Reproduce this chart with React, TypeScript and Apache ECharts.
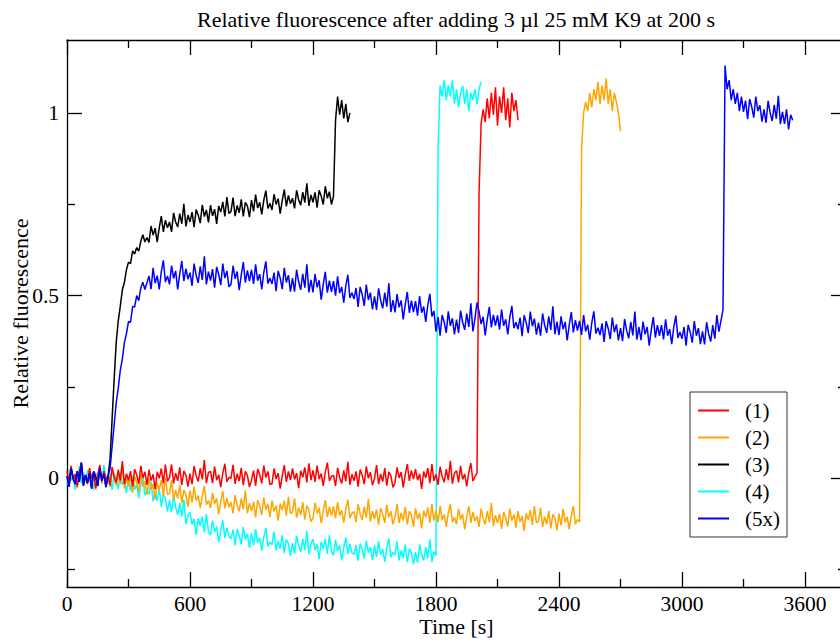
import React, { useEffect, useRef } from "react";
import * as echarts from "echarts";

// sampling step of all traces (s); each row below covers 100 s
const sampleStep = 10;

const xTicks = [0, 600, 1200, 1800, 2400, 3000, 3600];
const yTickLabels = ["0", "0.5", "1"];

const seriesNames = ["(1)", "(2)", "(3)", "(4)", "(5x)"];
const seriesColors = ["#ff0000", "#ffa500", "#000000", "#00ffff", "#0000ff"];

// (1) red, t = 0..2200 s
const trace1 = [
  0.019, -0.013, 0.032, -0.005, 0.010, -0.024, 0.014, 0.040, -0.010, 0.003,
  -0.016, 0.026, -0.003, 0.013, -0.029, 0.006, 0.035, -0.011, 0.018, -0.006,
  0.008, -0.021, 0.029, 0.002, -0.014, 0.022, -0.008, 0.045, -0.018, 0.011,
  -0.008, 0.018, -0.024, 0.023, 0.007, -0.017, 0.032, -0.001, 0.016, -0.020,
  0.022, -0.008, 0.009, -0.032, 0.016, -0.002, 0.025, -0.016, 0.036, -0.010,
  -0.001, 0.036, -0.016, 0.012, -0.009, 0.028, -0.020, 0.018, 0.007, -0.025,
  0.011, -0.018, 0.032, 0.005, -0.011, 0.025, -0.005, 0.048, -0.015, 0.014,
  0.017, -0.015, 0.030, -0.007, 0.008, -0.026, 0.012, 0.038, -0.012, 0.001,
  -0.002, 0.035, -0.017, 0.011, -0.010, 0.027, -0.021, 0.017, 0.006, -0.026,
  -0.007, 0.019, -0.023, 0.024, 0.008, -0.016, 0.033, 0.000, 0.017, -0.019,
  -0.017, 0.025, -0.004, 0.012, -0.030, 0.005, 0.034, -0.012, 0.017, -0.007,
  0.025, -0.005, 0.012, -0.029, 0.019, 0.001, 0.028, -0.013, 0.039, -0.007,
  0.020, -0.012, 0.033, -0.004, 0.011, -0.023, 0.015, 0.041, -0.009, 0.004,
  0.006, -0.023, 0.027, 0.000, -0.016, 0.020, -0.010, 0.043, -0.020, 0.009,
  -0.009, 0.017, -0.025, 0.022, 0.006, -0.018, 0.031, -0.002, 0.015, -0.021,
  -0.003, 0.034, -0.018, 0.010, -0.011, 0.026, -0.022, 0.016, 0.005, -0.027,
  -0.014, 0.028, -0.001, 0.015, -0.027, 0.008, 0.037, -0.009, 0.020, -0.004,
  0.023, -0.007, 0.010, -0.031, 0.017, -0.001, 0.026, -0.015, 0.037, -0.009,
  0.009, -0.020, 0.030, 0.003, -0.013, 0.023, -0.007, 0.046, -0.017, 0.012,
  0.019, -0.013, 0.032, -0.005, 0.010, -0.024, 0.014, 0.040, -0.010, 0.003,
  0.012, 0.780, 0.970, 1.010, 0.975, 1.040, 0.985, 1.055, 0.995, 1.070,
  0.965, 1.045, 1.000, 1.070, 0.980, 1.040, 0.960, 1.055, 1.005, 1.035,
  0.980,
];

// (2) orange, t = 0..2700 s
const trace2 = [
  0.015, -0.017, 0.028, -0.009, 0.006, -0.028, 0.010, 0.036, -0.014, -0.001,
  -0.020, 0.022, -0.007, 0.009, -0.033, 0.002, 0.031, -0.015, 0.014, -0.010,
  0.004, -0.026, 0.023, -0.005, -0.022, 0.013, -0.018, 0.034, -0.030, -0.002,
  -0.024, 0.001, -0.042, 0.003, -0.014, -0.039, 0.009, -0.025, -0.010, -0.047,
  -0.002, -0.033, -0.018, -0.060, -0.014, -0.033, -0.007, -0.050, 0.001, -0.047,
  -0.043, -0.007, -0.061, -0.034, -0.057, -0.021, -0.070, -0.034, -0.046, -0.080,
  -0.035, -0.068, -0.025, -0.063, -0.049, -0.084, -0.048, -0.023, -0.074, -0.063,
  -0.083, -0.042, -0.072, -0.057, -0.100, -0.066, -0.037, -0.084, -0.056, -0.081,
  -0.068, -0.098, -0.048, -0.076, -0.092, -0.057, -0.087, -0.035, -0.098, -0.070,
  -0.092, -0.066, -0.109, -0.062, -0.079, -0.103, -0.055, -0.088, -0.072, -0.108,
  -0.063, -0.093, -0.077, -0.118, -0.071, -0.089, -0.063, -0.104, -0.053, -0.099,
  -0.094, -0.057, -0.110, -0.082, -0.103, -0.067, -0.115, -0.077, -0.089, -0.121,
  -0.111, -0.069, -0.099, -0.083, -0.125, -0.091, -0.062, -0.108, -0.080, -0.104,
  -0.079, -0.111, -0.067, -0.104, -0.089, -0.124, -0.086, -0.060, -0.111, -0.098,
  -0.093, -0.122, -0.072, -0.100, -0.116, -0.080, -0.110, -0.058, -0.121, -0.092,
  -0.114, -0.088, -0.130, -0.084, -0.100, -0.124, -0.075, -0.109, -0.092, -0.128,
  -0.109, -0.072, -0.124, -0.097, -0.118, -0.081, -0.129, -0.092, -0.103, -0.135,
  -0.084, -0.114, -0.097, -0.139, -0.091, -0.109, -0.082, -0.124, -0.072, -0.118,
  -0.091, -0.123, -0.078, -0.116, -0.101, -0.135, -0.097, -0.072, -0.122, -0.109,
  -0.128, -0.086, -0.115, -0.100, -0.142, -0.107, -0.078, -0.124, -0.095, -0.119,
  -0.106, -0.135, -0.085, -0.112, -0.128, -0.092, -0.122, -0.069, -0.132, -0.103,
  -0.125, -0.099, -0.141, -0.094, -0.110, -0.134, -0.085, -0.118, -0.101, -0.137,
  -0.092, -0.122, -0.105, -0.146, -0.098, -0.116, -0.089, -0.130, -0.078, -0.124,
  -0.120, -0.083, -0.135, -0.107, -0.128, -0.091, -0.139, -0.101, -0.112, -0.144,
  -0.099, -0.131, -0.086, -0.123, -0.108, -0.142, -0.104, -0.078, -0.128, -0.115,
  -0.122, 0.900, 1.000, 1.030, 1.005, 1.055, 1.015, 1.065, 1.035, 1.085,
  1.025, 1.075, 1.035, 1.095, 1.025, 1.065, 1.005, 1.055, 1.030, 1.000,
  0.950,
];

// (3) black, t = 0..1380 s
const trace3 = [
  0.004, -0.025, 0.025, -0.002, -0.018, 0.018, -0.012, 0.041, -0.022, 0.007,
  -0.014, 0.012, -0.030, 0.017, 0.001, -0.023, 0.026, -0.007, 0.010, -0.026,
  0.002, 0.050, 0.160, 0.270, 0.370, 0.430, 0.470, 0.515, 0.535, 0.570,
  0.591, 0.587, 0.622, 0.613, 0.631, 0.621, 0.648, 0.666, 0.646, 0.658,
  0.645, 0.690, 0.665, 0.684, 0.646, 0.685, 0.717, 0.674, 0.706, 0.685,
  0.701, 0.674, 0.726, 0.701, 0.687, 0.724, 0.696, 0.751, 0.689, 0.720,
  0.701, 0.728, 0.687, 0.735, 0.720, 0.698, 0.748, 0.716, 0.734, 0.700,
  0.747, 0.718, 0.736, 0.696, 0.745, 0.728, 0.756, 0.716, 0.769, 0.724,
  0.730, 0.768, 0.717, 0.746, 0.726, 0.763, 0.716, 0.755, 0.745, 0.714,
  0.761, 0.730, 0.776, 0.739, 0.755, 0.722, 0.761, 0.787, 0.738, 0.752,
  0.734, 0.777, 0.749, 0.765, 0.724, 0.760, 0.790, 0.744, 0.774, 0.751,
  0.766, 0.738, 0.788, 0.762, 0.747, 0.783, 0.754, 0.807, 0.745, 0.775,
  0.755, 0.782, 0.740, 0.788, 0.772, 0.749, 0.799, 0.766, 0.784, 0.749,
  0.772, 0.980, 1.045, 0.995, 1.035, 0.985, 1.025, 0.975, 1.000,
];

// (4) cyan, t = 0..2020 s
const trace4 = [
  -0.020, 0.022, -0.007, 0.009, -0.033, 0.002, 0.031, -0.015, 0.014, -0.010,
  0.020, -0.010, 0.007, -0.034, 0.014, -0.004, 0.023, -0.018, 0.034, -0.012,
  -0.014, 0.010, -0.034, 0.012, -0.006, -0.032, 0.015, -0.019, -0.004, -0.042,
  -0.003, -0.037, 0.006, -0.033, -0.020, -0.056, -0.020, 0.004, -0.048, -0.037,
  -0.045, -0.011, -0.065, -0.040, -0.064, -0.029, -0.080, -0.045, -0.058, -0.093,
  -0.062, -0.095, -0.050, -0.081, -0.102, -0.070, -0.107, -0.060, -0.128, -0.105,
  -0.095, -0.128, -0.113, -0.157, -0.111, -0.132, -0.107, -0.150, -0.100, -0.148,
  -0.158, -0.118, -0.149, -0.134, -0.178, -0.145, -0.117, -0.165, -0.137, -0.162,
  -0.167, -0.143, -0.186, -0.141, -0.158, -0.183, -0.136, -0.170, -0.154, -0.192,
  -0.152, -0.185, -0.141, -0.179, -0.165, -0.200, -0.163, -0.138, -0.189, -0.177,
  -0.184, -0.148, -0.200, -0.173, -0.195, -0.158, -0.207, -0.170, -0.181, -0.214,
  -0.180, -0.209, -0.160, -0.187, -0.204, -0.168, -0.199, -0.146, -0.210, -0.181,
  -0.169, -0.199, -0.183, -0.224, -0.176, -0.195, -0.168, -0.209, -0.158, -0.204,
  -0.213, -0.171, -0.201, -0.185, -0.227, -0.193, -0.164, -0.210, -0.182, -0.206,
  -0.211, -0.185, -0.228, -0.181, -0.197, -0.222, -0.173, -0.206, -0.190, -0.226,
  -0.186, -0.218, -0.174, -0.211, -0.196, -0.231, -0.193, -0.167, -0.218, -0.205,
  -0.212, -0.175, -0.227, -0.200, -0.221, -0.184, -0.232, -0.195, -0.206, -0.238,
  -0.204, -0.233, -0.183, -0.211, -0.227, -0.191, -0.221, -0.169, -0.232, -0.203,
  -0.215, 0.900, 1.075, 1.045, 1.090, 1.035, 1.075, 1.045, 1.090, 1.025,
  1.065, 1.015, 1.055, 1.075, 1.025, 1.065, 1.005, 1.055, 1.035, 1.065,
  1.025, 1.065, 1.085,
];

// (5x) blue, t = 0..3540 s
const trace5 = [
  0.004, -0.025, 0.025, -0.002, -0.018, 0.018, -0.012, 0.041, -0.022, 0.007,
  -0.014, 0.012, -0.030, 0.017, 0.001, -0.023, 0.026, -0.007, 0.010, -0.026,
  0.004, 0.025, 0.085, 0.145, 0.205, 0.245, 0.295, 0.325, 0.370, 0.395,
  0.428, 0.426, 0.469, 0.468, 0.499, 0.485, 0.520, 0.536, 0.516, 0.534,
  0.553, 0.517, 0.575, 0.533, 0.554, 0.516, 0.564, 0.596, 0.536, 0.553,
  0.530, 0.581, 0.546, 0.567, 0.516, 0.559, 0.594, 0.539, 0.573, 0.544,
  0.562, 0.526, 0.587, 0.555, 0.534, 0.579, 0.542, 0.607, 0.530, 0.565,
  0.540, 0.572, 0.521, 0.578, 0.557, 0.528, 0.587, 0.547, 0.567, 0.523,
  0.530, 0.581, 0.545, 0.565, 0.514, 0.556, 0.591, 0.535, 0.568, 0.539,
  0.570, 0.531, 0.585, 0.540, 0.558, 0.516, 0.563, 0.593, 0.532, 0.547,
  0.531, 0.562, 0.511, 0.567, 0.547, 0.517, 0.575, 0.535, 0.555, 0.510,
  0.547, 0.510, 0.570, 0.537, 0.515, 0.559, 0.521, 0.585, 0.508, 0.542,
  0.508, 0.558, 0.522, 0.541, 0.488, 0.530, 0.564, 0.507, 0.540, 0.509,
  0.539, 0.499, 0.552, 0.506, 0.523, 0.480, 0.526, 0.556, 0.493, 0.507,
  0.490, 0.520, 0.468, 0.523, 0.502, 0.471, 0.529, 0.487, 0.507, 0.461,
  0.497, 0.460, 0.519, 0.486, 0.464, 0.507, 0.469, 0.533, 0.454, 0.487,
  0.453, 0.503, 0.467, 0.486, 0.434, 0.475, 0.509, 0.452, 0.485, 0.454,
  0.484, 0.444, 0.498, 0.452, 0.469, 0.427, 0.473, 0.504, 0.442, 0.457,
  0.400, 0.440, 0.389, 0.446, 0.426, 0.397, 0.456, 0.416, 0.437, 0.393,
  0.433, 0.397, 0.458, 0.426, 0.405, 0.450, 0.413, 0.478, 0.401, 0.436,
  0.480, 0.456, 0.421, 0.441, 0.390, 0.433, 0.468, 0.412, 0.446, 0.417,
  0.445, 0.406, 0.461, 0.416, 0.434, 0.393, 0.440, 0.471, 0.410, 0.426,
  0.407, 0.439, 0.388, 0.445, 0.425, 0.396, 0.455, 0.415, 0.436, 0.392,
  0.425, 0.389, 0.450, 0.418, 0.397, 0.442, 0.405, 0.470, 0.393, 0.428,
  0.391, 0.442, 0.407, 0.427, 0.376, 0.419, 0.454, 0.398, 0.432, 0.403,
  0.430, 0.391, 0.446, 0.401, 0.419, 0.378, 0.425, 0.456, 0.395, 0.411,
  0.391, 0.423, 0.372, 0.429, 0.409, 0.380, 0.439, 0.399, 0.420, 0.376,
  0.410, 0.374, 0.435, 0.403, 0.382, 0.427, 0.390, 0.455, 0.378, 0.413,
  0.377, 0.428, 0.393, 0.413, 0.362, 0.405, 0.440, 0.384, 0.418, 0.389,
  0.418, 0.379, 0.434, 0.389, 0.407, 0.366, 0.413, 0.444, 0.383, 0.399,
  0.381, 0.413, 0.362, 0.419, 0.399, 0.370, 0.429, 0.389, 0.410, 0.366,
  0.401, 0.365, 0.426, 0.394, 0.373, 0.418, 0.381, 0.446, 0.400, 0.430,
  0.460, 1.130, 1.065, 1.090, 1.035, 1.065, 1.025, 1.055, 1.005, 1.045,
  1.003, 1.034, 0.983, 1.038, 1.017, 0.987, 1.045, 1.005, 1.021, 0.976,
  1.010, 0.973, 1.033, 1.000, 0.978, 1.022, 0.984, 1.047, 0.969, 1.003,
  0.970, 1.010, 0.955, 0.995, 0.980,
];

const traces = [trace1, trace2, trace3, trace4, trace5];
// drawing order (back to front): (4), (2), (1), (3), (5x)
const drawOrder = [3, 1, 0, 2, 4];

const FONT = "'Liberation Serif', 'Times New Roman', serif";

export default function App() {
  const ref = useRef<HTMLDivElement>(null);
  useEffect(() => {
    if (!ref.current) return;
    const chart = echarts.init(ref.current, null, { renderer: "svg" });
    const axisLineStyle = { color: "#000", width: 1.3 };
    const series = drawOrder.map((k) => ({
      type: "line",
      name: seriesNames[k],
      xAxisIndex: 0,
      yAxisIndex: 0,
      data: traces[k].map((v, i) => [i * sampleStep, v]),
      showSymbol: false,
      symbol: "none",
      lineStyle: { color: seriesColors[k], width: 1.5 },
      itemStyle: { color: seriesColors[k] },
      clip: true,
      silent: true,
    }));
    chart.setOption({
      animation: false,
      backgroundColor: "#fff",
      textStyle: { fontFamily: FONT },
      graphic: [
        {
          type: "text",
          x: 456,
          y: 19,
          style: {
            text: "Relative fluorescence after adding 3 µl 25 mM K9 at 200 s",
            font: `22px ${FONT}`,
            fill: "#000",
            textAlign: "center",
            textVerticalAlign: "middle",
          },
        },
      ],
      legend: {
        data: seriesNames,
        orient: "vertical",
        left: 690,
        top: 392,
        padding: [8, 7, 8, 8],
        itemGap: 6,
        itemWidth: 31,
        itemHeight: 2,
        icon: "rect",
        backgroundColor: "#fff",
        borderColor: "#333",
        borderWidth: 1,
        borderRadius: 0,
        textStyle: {
          fontFamily: FONT,
          fontSize: 21,
          color: "#000",
          lineHeight: 20,
          padding: [0, 0, 0, 11],
        },
      },
      grid: [
        { left: 67, right: -6, top: 40, bottom: 54, containLabel: false, outerBoundsMode: "none" },
        { left: 67, right: -6, top: 113, height: 547.5, containLabel: false, outerBoundsMode: "none" },
      ],
      xAxis: [
        {
          type: "value",
          gridIndex: 0,
          position: "bottom",
          min: 0,
          max: 3800,
          interval: 600,
          axisLine: { show: true, onZero: false, lineStyle: axisLineStyle },
          axisTick: { show: true, inside: true, length: 15, lineStyle: axisLineStyle },
          minorTick: { show: true, splitNumber: 2, length: 8, lineStyle: axisLineStyle },
          splitLine: { show: false },
          axisLabel: {
            show: true,
            margin: 8,
            fontFamily: FONT,
            fontSize: 21.5,
            lineHeight: 18,
            color: "#000",
            showMaxLabel: false,
            formatter: (v: number) => (xTicks.includes(v) ? String(v) : ""),
          },
          name: "Time [s]",
          nameLocation: "middle",
          nameGap: 30,
          nameMoveOverlap: false,
          nameTextStyle: {
            fontFamily: FONT,
            fontSize: 22,
            lineHeight: 18,
            color: "#000",
            verticalAlign: "top",
          },
        },
        {
          type: "value",
          gridIndex: 0,
          position: "top",
          min: 0,
          max: 3800,
          interval: 600,
          axisLine: { show: true, onZero: false, lineStyle: axisLineStyle },
          axisTick: { show: true, inside: true, length: 15, lineStyle: axisLineStyle },
          minorTick: { show: true, splitNumber: 2, length: 8, lineStyle: axisLineStyle },
          splitLine: { show: false },
          axisLabel: { show: false },
        },
        {
          type: "value",
          gridIndex: 1,
          min: 0,
          max: 3800,
          show: false,
        },
      ],
      yAxis: [
        {
          type: "value",
          gridIndex: 0,
          position: "left",
          min: -0.3,
          max: 1.2,
          axisLine: { show: true, onZero: false, lineStyle: axisLineStyle },
          axisTick: { show: false },
          splitLine: { show: false },
          axisLabel: { show: false },
          name: "Relative fluorescence",
          nameLocation: "middle",
          nameGap: 36,
          nameMoveOverlap: false,
          nameTextStyle: { fontFamily: FONT, fontSize: 22, color: "#000" },
        },
        {
          type: "value",
          gridIndex: 0,
          position: "right",
          min: -0.3,
          max: 1.2,
          axisLine: { show: true, onZero: false, lineStyle: axisLineStyle },
          axisTick: { show: false },
          splitLine: { show: false },
          axisLabel: { show: false },
        },
        {
          type: "value",
          gridIndex: 1,
          position: "left",
          min: -0.5,
          max: 1,
          interval: 0.5,
          axisLine: { show: false, onZero: false },
          axisTick: { show: true, inside: true, length: 15, lineStyle: axisLineStyle },
          minorTick: { show: true, splitNumber: 2, length: 8, lineStyle: axisLineStyle },
          splitLine: { show: false },
          axisLabel: {
            show: true,
            margin: 8,
            fontFamily: FONT,
            fontSize: 21.5,
            color: "#000",
            formatter: (v: number) => {
              const s = String(Math.round(v * 10) / 10);
              return yTickLabels.includes(s) ? s : "";
            },
          },
        },
        {
          type: "value",
          gridIndex: 1,
          position: "right",
          min: -0.5,
          max: 1,
          interval: 0.5,
          axisLine: { show: false, onZero: false },
          axisTick: { show: true, inside: true, length: 15, lineStyle: axisLineStyle },
          minorTick: { show: true, splitNumber: 2, length: 8, lineStyle: axisLineStyle },
          splitLine: { show: false },
          axisLabel: { show: false },
        },
      ],
      series,
    });
    return () => chart.dispose();
  }, []);
  return (
    <div
      ref={ref}
      style={{ position: "fixed", left: 0, top: 0, width: 840, height: 641 }}
    />
  );
}
